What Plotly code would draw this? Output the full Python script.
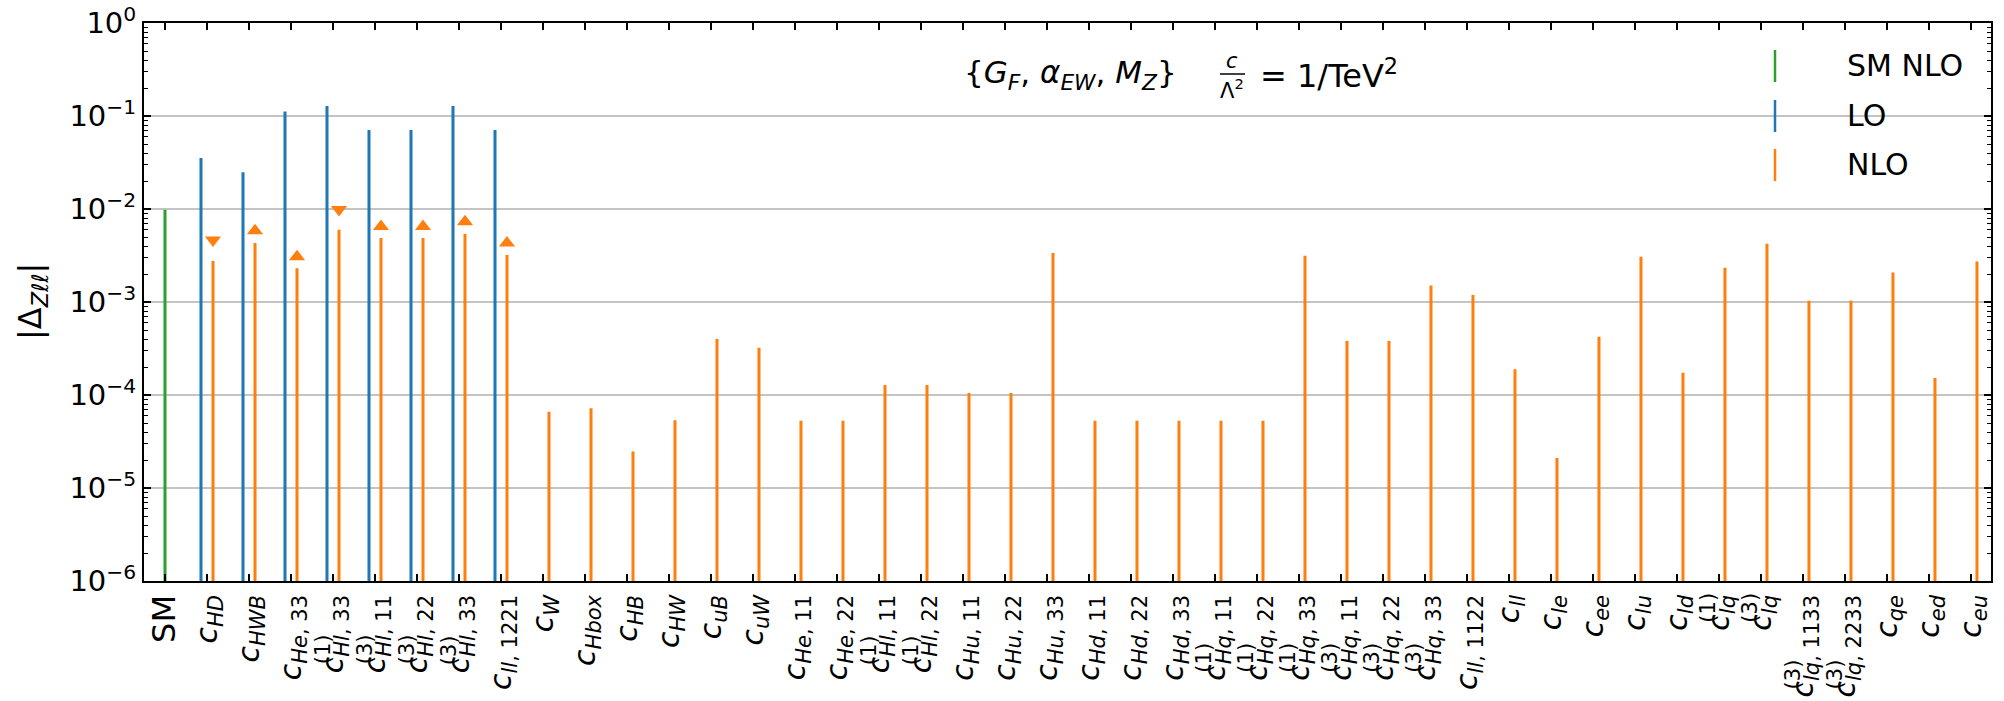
import plotly.graph_objects as go

# ---------------- data ----------------
categories = ["SM", "cHD", "cHWB", "cHe33", "cHl1_33", "cHl3_11", "cHl3_22", "cHl3_33", "cll1221",
              "cW", "cHbox", "cHB", "cHW", "cuB", "cuW", "cHe11", "cHe22", "cHl1_11", "cHl1_22",
              "cHu11", "cHu22", "cHu33", "cHd11", "cHd22", "cHd33", "cHq1_11", "cHq1_22", "cHq1_33",
              "cHq3_11", "cHq3_22", "cHq3_33", "cll1122", "cll", "cle", "cee", "clu", "cld", "clq1",
              "clq3", "clq3_1133", "clq3_2233", "cqe", "ced", "ceu"]

# subscript (letters, index) and superscript of each coefficient label
label_sub_letters = ["", "HD", "HWB", "He", "Hl", "Hl", "Hl", "Hl", "ll",
                     "W", "Hbox", "HB", "HW", "uB", "uW", "He", "He", "Hl", "Hl",
                     "Hu", "Hu", "Hu", "Hd", "Hd", "Hd", "Hq", "Hq", "Hq",
                     "Hq", "Hq", "Hq", "ll", "ll", "le", "ee", "lu", "ld", "lq",
                     "lq", "lq", "lq", "qe", "ed", "eu"]
label_sub_index = ["", "", "", "33", "33", "11", "22", "33", "1221",
                   "", "", "", "", "", "", "11", "22", "11", "22",
                   "11", "22", "33", "11", "22", "33", "11", "22", "33",
                   "11", "22", "33", "1122", "", "", "", "", "", "",
                   "", "1133", "2233", "", "", ""]
label_sup = ["", "", "", "", "(1)", "(3)", "(3)", "(3)", "",
             "", "", "", "", "", "", "", "", "(1)", "(1)",
             "", "", "", "", "", "", "(1)", "(1)", "(1)",
             "(3)", "(3)", "(3)", "", "", "", "", "", "", "(1)",
             "(3)", "(3)", "(3)", "", "", ""]

sm_nlo_value = [0.0098]

# LO values for categories 1..8
lo_values = [0.0353, 0.0248, 0.112, 0.128, 0.0707, 0.0707, 0.128, 0.0707]

# NLO values for categories 1..43
nlo_values = [0.00276, 0.00431, 0.0023, 0.0060, 0.00488, 0.00488, 0.00538, 0.0032,
              6.6e-5, 7.2e-5, 2.47e-5, 5.34e-5, 4.0e-4, 3.23e-4, 5.3e-5, 5.3e-5,
              1.28e-4, 1.28e-4, 1.05e-4, 1.05e-4, 3.36e-3, 5.3e-5, 5.3e-5, 5.3e-5,
              5.3e-5, 5.3e-5, 3.15e-3, 3.81e-4, 3.81e-4, 1.5e-3, 1.19e-3, 1.89e-4,
              2.1e-5, 4.24e-4, 3.07e-3, 1.73e-4, 2.34e-3, 4.24e-3, 1.03e-3, 1.03e-3,
              2.07e-3, 1.52e-4, 2.72e-3]

# triangle markers for categories 1..8
marker_values = [4.64e-3, 5.85e-3, 3.07e-3, 9.9e-3, 6.5e-3, 6.5e-3, 7.3e-3, 4.3e-3]
marker_dirs = ["down", "up", "up", "down", "up", "up", "up", "up"]

ytick_vals = [1e-6, 1e-5, 1e-4, 1e-3, 1e-2, 1e-1, 1e0]
ytick_text = ["10<sup>\u22126</sup>", "10<sup>\u22125</sup>", "10<sup>\u22124</sup>",
              "10<sup>\u22123</sup>", "10<sup>\u22122</sup>", "10<sup>\u22121</sup>", "10<sup>0</sup>"]

# ---------------- styling ----------------
GREEN = "#2ca02c"
BLUE = "#1f77b4"
ORANGE = "#ff7f0e"
FONT = "DejaVu Sans"
OFFSET = 0.143
BW = 0.072
TICKF = 30
SUBF = 0.7 * TICKF

# approximate DejaVu Sans advance widths (em) for layout of superscripts
CW = {"H": 0.752, "D": 0.770, "W": 0.989, "B": 0.686, "e": 0.615, "l": 0.278, "q": 0.635,
      "u": 0.634, "d": 0.635, "b": 0.635, "o": 0.612, "x": 0.592, ",": 0.318, " ": 0.318,
      "c": 0.550}
for dgt in "0123456789":
    CW[dgt] = 0.636

def sub_html(i):
    s = "<i>" + label_sub_letters[i] + "</i>"
    if label_sub_index[i]:
        s += ", " + label_sub_index[i]
    return s

def sub_text(i):
    s = label_sub_letters[i]
    if label_sub_index[i]:
        s += ", " + label_sub_index[i]
    return s

tick_labels = []
for i, c in enumerate(categories):
    if c == "SM":
        tick_labels.append("<span style='font-size:32px'>SM</span>")
    else:
        tick_labels.append("<i>c</i><sub>" + sub_html(i) + "</sub>")

idx = list(range(len(categories)))
lo_x = [i - OFFSET for i in idx[1:1 + len(lo_values)]]
nlo_x = [i + OFFSET for i in idx[1:1 + len(nlo_values)]]
mk_x = [i + OFFSET for i in idx[1:1 + len(marker_values)]]

fig = go.Figure()
fig.add_trace(go.Bar(x=[idx[0]], y=sm_nlo_value, width=BW, marker=dict(color=GREEN, line_width=0),
                     name="SM NLO"))
fig.add_trace(go.Bar(x=lo_x, y=lo_values, width=BW, marker=dict(color=BLUE, line_width=0), name="LO"))
fig.add_trace(go.Bar(x=nlo_x, y=nlo_values, width=BW, marker=dict(color=ORANGE, line_width=0), name="NLO"))
fig.add_trace(go.Scatter(x=mk_x, y=marker_values, mode="markers",
                         marker=dict(symbol=["triangle-" + d for d in marker_dirs], size=14, color=ORANGE,
                                     line_width=0),
                         showlegend=False))

L, R, T, B = 144, 13, 23, 120
W, H = 2004, 701
pw, ph = W - L - R, H - T - B

def px(x):
    return (x - L) / pw

def py(y):
    return (H - B - y) / ph

fig.update_layout(
    width=W, height=H, margin=dict(l=L, r=R, t=T, b=B, autoexpand=False),
    paper_bgcolor="white", plot_bgcolor="white", showlegend=False, barmode="overlay",
    font=dict(family=FONT, color="black"),
)
fig.update_xaxes(
    range=[-0.5, 43.477], tickvals=idx, ticktext=tick_labels, tickangle=-90,
    tickfont=dict(size=TICKF, family=FONT, color="black"),
    ticks="inside", ticklen=7, tickwidth=1.5, tickcolor="black",
    showline=True, linecolor="black", linewidth=2, mirror="ticks",
    showgrid=False, zeroline=False, automargin=False,
)
fig.update_yaxes(
    type="log", range=[-6, 0], tickvals=ytick_vals, ticktext=ytick_text,
    tickfont=dict(size=29, family=FONT, color="black"),
    ticks="inside", ticklen=7, tickwidth=1.5, tickcolor="black",
    showline=True, linecolor="black", linewidth=2, mirror="ticks",
    showgrid=True, gridcolor="#c4c4c4", gridwidth=1.5, zeroline=False, automargin=False,
    minor=dict(ticks="inside", ticklen=4, tickwidth=1.2, tickcolor="black", dtick="D1", showgrid=False),
)

ann = []
# superscripts of the coefficient labels, stacked over the subscripts
LABEL_TOP = 594
for i in idx:
    if label_sup[i]:
        sw = sum(CW.get(ch, 0.6) for ch in sub_text(i)) * SUBF
        ann.append(dict(x=i - 0.25, xref="x", y=py(LABEL_TOP + sw - 6), yref="paper",
                        text=label_sup[i], textangle=-90, showarrow=False,
                        font=dict(size=int(SUBF), family=FONT, color="black"),
                        xanchor="center", yanchor="middle"))

# y-axis title
ann.append(dict(x=px(32), y=0.5, xref="paper", yref="paper", text="|\u0394<sub><i>Z\u2113\u2113</i></sub>|",
                textangle=-90, showarrow=False, font=dict(size=32, family=FONT), xanchor="center",
                yanchor="middle"))
# scheme annotation
ann.append(dict(x=px(962), y=py(74), xref="paper", yref="paper",
                text="{<i>G</i><sub><i>F</i></sub>, <i>\u03b1</i><sub><i>EW</i></sub>, <i>M</i><sub><i>Z</i></sub>}",
                showarrow=False, font=dict(size=31, family=FONT), xanchor="left", yanchor="middle"))
ann.append(dict(x=px(1232), y=py(61), xref="paper", yref="paper", text="<i>c</i>",
                showarrow=False, font=dict(size=21, family=FONT), xanchor="center", yanchor="middle"))
ann.append(dict(x=px(1232), y=py(89), xref="paper", yref="paper", text="\u039b<sup>2</sup>",
                showarrow=False, font=dict(size=21, family=FONT), xanchor="center", yanchor="middle"))
ann.append(dict(x=px(1258), y=py(74), xref="paper", yref="paper", text="= 1/TeV<sup>2</sup>",
                showarrow=False, font=dict(size=32, family=FONT), xanchor="left", yanchor="middle"))

shapes = [dict(type="line", xref="paper", yref="paper", x0=px(1220), x1=px(1245), y0=py(74), y1=py(74),
               line=dict(color="black", width=1.5))]

# legend
legend_items = [("SM NLO", GREEN, 65), ("LO", BLUE, 115), ("NLO", ORANGE, 164)]
for label, col, yc in legend_items:
    shapes.append(dict(type="line", xref="paper", yref="paper", x0=px(1775), x1=px(1775),
                       y0=py(yc - 15), y1=py(yc + 17), line=dict(color=col, width=2.5)))
    ann.append(dict(x=px(1845), y=py(yc), xref="paper", yref="paper", text=label, showarrow=False,
                    font=dict(size=30, family=FONT), xanchor="left", yanchor="middle"))

fig.update_layout(annotations=ann, shapes=shapes)
fig.write_html("out.html")
